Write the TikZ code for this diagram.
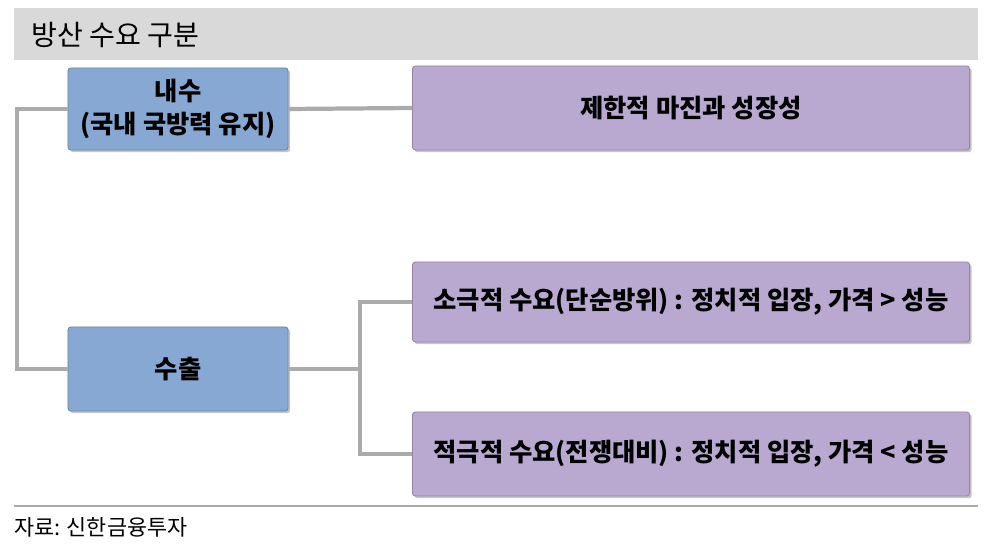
\documentclass[tikz,border=0pt]{standalone}
\usepackage{fontspec}
\setmainfont{Noto Sans CJK KR}
\usetikzlibrary{shadows}
\definecolor{boxblue}{HTML}{86A8D2}
\definecolor{boxpurple}{HTML}{B9A9D0}
\definecolor{linegray}{HTML}{ABABAB}
\definecolor{bargray}{HTML}{D9D9D9}

\begin{document}
\begin{tikzpicture}[x=0.025cm, y=-0.025cm, thick,
    blue node/.style={rectangle, rounded corners=2pt, draw=boxblue!80!black, line width=0.6pt, fill=boxblue, drop shadow={shadow xshift=1.5pt, shadow yshift=-1.5pt, opacity=0.45}, minimum width=5.5cm, align=center, font=\fontsize{18}{24}\selectfont\bfseries},
    purple node/.style={rectangle, rounded corners=2pt, draw=boxpurple!80!black, line width=0.6pt, fill=boxpurple, drop shadow={shadow xshift=1.5pt, shadow yshift=-1.5pt, opacity=0.45}, minimum width=13.925cm, font=\fontsize{18}{24}\selectfont\bfseries},
    link/.style={draw=linegray, line width=3pt}]
            \useasboundingbox (0,0) rectangle (989,551);
            \fill [bargray] (14,8) rectangle (978,60);
            \node (0) [anchor=west, font=\fontsize{20}{22}\selectfont] at (26,35) {방산 수요 구분};

            \node [blue node, minimum height=2.05cm](1) at (178,109){내수\\(국내 국방력 유지)};
            \node [blue node, minimum height=2.1cm](2) at (178,369){수출};

            \node [purple node, minimum height=2.1cm](3) at (691,108){제한적 마진과 성장성};
            \node [purple node, minimum height=2.0cm](4) at (691,302){소극적 수요(단순방위) : 정치적 입장, 가격 > 성능};
            \node [purple node, minimum height=2.1cm](5) at (691,454){적극적 수요(전쟁대비) : 정치적 입장, 가격 < 성능};

            \coordinate (L) at (17,240);
            \coordinate (M) at (360,370);

            \begin{scope}[on background layer/.try]
            \draw [link] (1.west) -| (L) |- (2.west);
            \draw [link] (1.east) -- (3.west);
            \draw [link] (4.west) -| (M) |- (5.west);
            \draw [link] (2.east) -- (2.east -| M);
            \end{scope}

            \draw [linegray, line width=1pt] (14,506) -- (978,506);
            \node (6) [anchor=west, font=\fontsize{15.5}{17}\selectfont] at (9,527) {자료: 신한금융투자};
        \end{tikzpicture}
\end{document}
